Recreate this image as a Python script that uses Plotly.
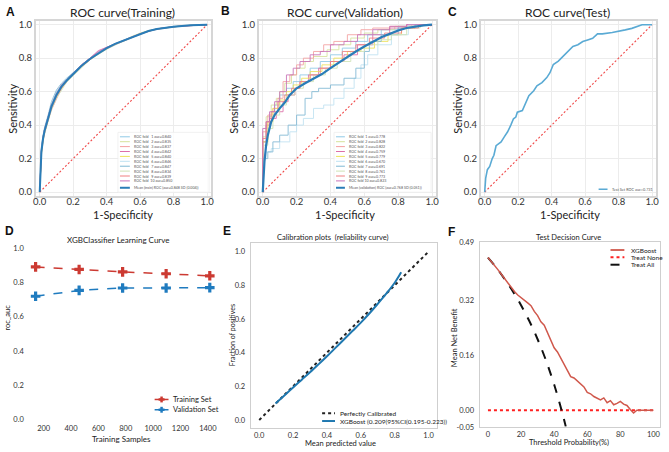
import plotly.graph_objects as go

W, H = 669, 452

# ------------------------------------------------------------------ data
# A: training ROC (10 folds + mean), common FPR grid
train_fpr = [0, 0.005, 0.01, 0.02, 0.03, 0.05, 0.07, 0.1, 0.13, 0.16, 0.2, 0.25, 0.3,
             0.35, 0.4, 0.45, 0.5, 0.55, 0.6, 0.65, 0.7, 0.8, 0.9, 1.0]
train_tpr_fold1 = [0, 0.17, 0.25, 0.33, 0.38, 0.45, 0.52, 0.60, 0.64, 0.67, 0.70, 0.75, 0.79, 0.83, 0.855, 0.88, 0.90, 0.925, 0.945, 0.96, 0.975, 0.99, 0.996, 1]
train_tpr_fold2 = [0, 0.16, 0.23, 0.31, 0.36, 0.43, 0.50, 0.57, 0.62, 0.66, 0.70, 0.75, 0.79, 0.825, 0.855, 0.88, 0.905, 0.93, 0.95, 0.965, 0.975, 0.988, 0.997, 1]
train_tpr_fold3 = [0, 0.19, 0.24, 0.32, 0.36, 0.43, 0.49, 0.56, 0.62, 0.66, 0.70, 0.76, 0.80, 0.835, 0.86, 0.885, 0.905, 0.925, 0.945, 0.96, 0.972, 0.987, 0.996, 1]
train_tpr_fold4 = [0, 0.18, 0.25, 0.33, 0.38, 0.44, 0.51, 0.58, 0.63, 0.67, 0.71, 0.76, 0.80, 0.845, 0.865, 0.885, 0.905, 0.925, 0.945, 0.962, 0.974, 0.988, 0.996, 1]
train_tpr_fold5 = [0, 0.17, 0.24, 0.31, 0.37, 0.44, 0.50, 0.57, 0.62, 0.66, 0.70, 0.75, 0.79, 0.83, 0.86, 0.885, 0.905, 0.925, 0.947, 0.963, 0.975, 0.989, 0.996, 1]
train_tpr_fold6 = [0, 0.19, 0.26, 0.33, 0.38, 0.45, 0.52, 0.59, 0.64, 0.675, 0.71, 0.76, 0.80, 0.835, 0.862, 0.887, 0.907, 0.927, 0.946, 0.962, 0.975, 0.988, 0.996, 1]
train_tpr_fold7 = [0, 0.20, 0.27, 0.34, 0.39, 0.46, 0.54, 0.61, 0.65, 0.68, 0.715, 0.76, 0.80, 0.835, 0.86, 0.885, 0.905, 0.927, 0.946, 0.962, 0.975, 0.988, 0.996, 1]
train_tpr_fold8 = [0, 0.16, 0.22, 0.30, 0.35, 0.42, 0.49, 0.56, 0.61, 0.655, 0.695, 0.745, 0.79, 0.825, 0.855, 0.88, 0.90, 0.922, 0.944, 0.96, 0.973, 0.987, 0.996, 1]
train_tpr_fold9 = [0, 0.17, 0.23, 0.31, 0.36, 0.43, 0.50, 0.57, 0.62, 0.66, 0.70, 0.75, 0.79, 0.83, 0.857, 0.882, 0.902, 0.924, 0.944, 0.961, 0.974, 0.988, 0.996, 1]
train_tpr_fold10 = [0, 0.19, 0.25, 0.33, 0.38, 0.45, 0.52, 0.59, 0.64, 0.67, 0.71, 0.76, 0.80, 0.84, 0.865, 0.887, 0.907, 0.927, 0.946, 0.962, 0.975, 0.988, 0.996, 1]
train_tpr_mean = [0, 0.18, 0.24, 0.32, 0.37, 0.44, 0.51, 0.58, 0.63, 0.665, 0.705, 0.755, 0.795, 0.83, 0.86, 0.885, 0.905, 0.925, 0.945, 0.962, 0.974, 0.988, 0.996, 1.0]
train_auc = ["0.840", "0.835", "0.837", "0.842", "0.840", "0.846", "0.847", "0.834", "0.839", "0.850"]
train_mean_label = "Mean (train) ROC (auc=0.848 SD (0.004))"

# B: validation ROC (10 folds, step curves) + mean
val_fpr_fold1 = [0, 0, 0.02, 0.04, 0.07, 0.1, 0.14, 0.18, 0.22, 0.28, 0.34, 0.4, 0.47, 0.55, 0.62, 0.7, 0.8, 0.9, 1]
val_tpr_fold1 = [0, 0.15, 0.3, 0.38, 0.45, 0.52, 0.58, 0.62, 0.66, 0.7, 0.74, 0.78, 0.82, 0.86, 0.9, 0.94, 0.97, 0.99, 1]
val_fpr_fold2 = [0, 0, 0.02, 0.05, 0.08, 0.1, 0.13, 0.17, 0.2, 0.25, 0.3, 0.38, 0.45, 0.52, 0.6, 0.68, 0.78, 0.88, 1]
val_tpr_fold2 = [0, 0.2, 0.33, 0.45, 0.52, 0.56, 0.6, 0.65, 0.7, 0.74, 0.78, 0.81, 0.85, 0.88, 0.92, 0.95, 0.97, 0.99, 1]
val_fpr_fold3 = [0, 0, 0.03, 0.06, 0.09, 0.12, 0.16, 0.2, 0.24, 0.3, 0.36, 0.42, 0.5, 0.58, 0.65, 0.75, 0.85, 1]
val_tpr_fold3 = [0, 0.2, 0.36, 0.46, 0.5, 0.56, 0.66, 0.7, 0.76, 0.8, 0.84, 0.88, 0.9, 0.94, 0.97, 0.98, 0.99, 1]
val_fpr_fold4 = [0, 0, 0.02, 0.04, 0.08, 0.12, 0.15, 0.19, 0.22, 0.27, 0.33, 0.4, 0.48, 0.56, 0.65, 0.75, 0.85, 1]
val_tpr_fold4 = [0, 0.12, 0.3, 0.4, 0.44, 0.48, 0.54, 0.58, 0.62, 0.66, 0.7, 0.74, 0.78, 0.82, 0.88, 0.94, 0.98, 1]
val_fpr_fold5 = [0, 0, 0.03, 0.06, 0.1, 0.14, 0.18, 0.23, 0.28, 0.35, 0.42, 0.5, 0.58, 0.66, 0.74, 0.82, 0.9, 1]
val_tpr_fold5 = [0, 0.16, 0.3, 0.42, 0.5, 0.55, 0.6, 0.64, 0.68, 0.72, 0.76, 0.8, 0.84, 0.86, 0.9, 0.94, 0.98, 1]
val_fpr_fold6 = [0, 0, 0.02, 0.05, 0.1, 0.16, 0.2, 0.24, 0.3, 0.36, 0.42, 0.48, 0.54, 0.58, 0.62, 0.68, 0.76, 0.86, 1]
val_tpr_fold6 = [0, 0.1, 0.2, 0.24, 0.26, 0.3, 0.36, 0.4, 0.44, 0.5, 0.52, 0.56, 0.62, 0.68, 0.76, 0.82, 0.88, 0.94, 1]
val_fpr_fold7 = [0, 0, 0.03, 0.06, 0.1, 0.15, 0.2, 0.25, 0.29, 0.33, 0.4, 0.48, 0.55, 0.6, 0.63, 0.7, 0.8, 0.9, 1]
val_tpr_fold7 = [0, 0.12, 0.2, 0.24, 0.3, 0.34, 0.4, 0.46, 0.56, 0.6, 0.62, 0.64, 0.68, 0.74, 0.84, 0.9, 0.94, 0.98, 1]
val_fpr_fold8 = [0, 0, 0.03, 0.06, 0.1, 0.14, 0.19, 0.24, 0.3, 0.37, 0.44, 0.52, 0.6, 0.68, 0.76, 0.85, 0.93, 1]
val_tpr_fold8 = [0, 0.14, 0.28, 0.38, 0.46, 0.52, 0.58, 0.62, 0.66, 0.7, 0.74, 0.78, 0.84, 0.88, 0.91, 0.94, 0.98, 1]
val_fpr_fold9 = [0, 0, 0.02, 0.05, 0.09, 0.13, 0.17, 0.22, 0.28, 0.34, 0.4, 0.47, 0.55, 0.63, 0.72, 0.82, 0.92, 1]
val_tpr_fold9 = [0, 0.18, 0.32, 0.42, 0.48, 0.54, 0.58, 0.62, 0.66, 0.7, 0.74, 0.78, 0.84, 0.88, 0.92, 0.95, 0.98, 1]
val_fpr_fold10 = [0, 0, 0.02, 0.04, 0.07, 0.1, 0.14, 0.18, 0.22, 0.28, 0.34, 0.4, 0.48, 0.56, 0.65, 0.75, 0.85, 1]
val_tpr_fold10 = [0, 0.25, 0.38, 0.42, 0.48, 0.54, 0.6, 0.7, 0.74, 0.78, 0.82, 0.84, 0.88, 0.9, 0.94, 0.97, 0.99, 1]
val_fpr_mean = [0, 0.005, 0.01, 0.02, 0.03, 0.05, 0.07, 0.1, 0.13, 0.16, 0.2, 0.25, 0.3, 0.35,
                0.4, 0.45, 0.5, 0.55, 0.6, 0.65, 0.7, 0.75, 0.8, 0.85, 0.9, 0.95, 1]
val_tpr_mean = [0, 0.1, 0.18, 0.28, 0.34, 0.42, 0.46, 0.5, 0.535, 0.58, 0.62, 0.65, 0.675, 0.705,
                0.74, 0.775, 0.81, 0.84, 0.87, 0.9, 0.925, 0.945, 0.965, 0.98, 0.99, 0.996, 1]
val_auc = ["0.778", "0.828", "0.822", "0.759", "0.779", "0.670", "0.691", "0.761", "0.773", "0.823"]
val_mean_label = "Mean (validation) ROC (auc=0.768 SD (0.051))"

# C: test ROC
test_fpr = [0, 0.006, 0.016, 0.03, 0.045, 0.055, 0.068, 0.098, 0.117, 0.137, 0.156, 0.172, 0.186,
            0.195, 0.225, 0.244, 0.264, 0.293, 0.312, 0.342, 0.371, 0.39, 0.41, 0.44, 0.469, 0.498,
            0.527, 0.557, 0.586, 0.615, 0.645, 0.674, 0.703, 0.762, 0.80, 0.84, 0.879, 0.918, 0.94, 1.0]
test_tpr = [0, 0.084, 0.134, 0.153, 0.2, 0.22, 0.277, 0.30, 0.33, 0.36, 0.40, 0.438, 0.448,
            0.477, 0.487, 0.536, 0.576, 0.605, 0.635, 0.654, 0.684, 0.713, 0.762, 0.782, 0.811, 0.84,
            0.87, 0.88, 0.899, 0.909, 0.919, 0.945, 0.945, 0.953, 0.959, 0.969, 0.978, 0.992, 1.0, 1.0]
test_label = "Test Set ROC auc=0.731"

chance = [0, 1]

# D: learning curve
lc_samples = [141, 459, 777, 1095, 1414]
lc_train = [0.890, 0.875, 0.861, 0.850, 0.838]
lc_valid = [0.719, 0.753, 0.767, 0.767, 0.769]

# E: calibration
cal_pred = [0.096, 0.15, 0.2, 0.25, 0.3, 0.35, 0.4, 0.45, 0.5, 0.55, 0.6, 0.65, 0.7, 0.75, 0.8, 0.838]
cal_frac = [0.098, 0.147, 0.193, 0.238, 0.283, 0.33, 0.378, 0.428, 0.478, 0.528, 0.578, 0.632, 0.69, 0.75, 0.815, 0.877]
cal_label = "XGBoost (0.209(95%CI(0.195-0.223))"

# F: decision curve
dca_thresh = [0, 2, 4, 6, 8, 10, 12, 14, 16, 18, 20, 22, 24, 26, 28, 30, 32, 34, 36, 38, 40, 42, 44, 46, 48, 50,
              52, 54, 56, 58, 60, 62, 64, 66, 68, 70, 72, 74, 76, 78, 80, 82, 84, 86, 88, 90, 92, 94, 96, 98, 100]
dca_model = [0.445, 0.434, 0.422, 0.410, 0.397, 0.384, 0.371, 0.358, 0.346, 0.336, 0.329, 0.322, 0.313, 0.305,
             0.288, 0.276, 0.258, 0.248, 0.226, 0.203, 0.182, 0.170, 0.152, 0.138, 0.118, 0.098, 0.094, 0.086,
             0.078, 0.068, 0.052, 0.048, 0.040, 0.034, 0.030, 0.036, 0.022, 0.028, 0.016, 0.020, 0.026, 0.018,
             0.014, 0.002, -0.008, 0.0, 0.0, 0.0, 0.0, 0.0, 0.0]
dca_all_thresh = [0, 5, 10, 15, 20, 25, 30, 35, 40, 45, 47]
dca_all = [0.445, 0.416, 0.383, 0.347, 0.306, 0.260, 0.207, 0.146, 0.075, -0.009, -0.047]
dca_none_thresh = [0, 100]
dca_none = [0, 0]

# ------------------------------------------------------------------ styling
FONT = "Lato, 'Open Sans', sans-serif"
NARROW = "'Liberation Sans Narrow', Lato, sans-serif"
fold_colors = ["#8fc9e6", "#d6e29c", "#f4a0a0", "#dd6ea8", "#eee25a",
               "#bfe2f2", "#7fb8d4", "#cfe3b6", "#f08080", "#c872b8"]
mean_blue = "#2a7db8"
diag_red = "#f04848"


def px(x):
    return x / W


def py(y):
    return 1 - y / H


def xdom(a, b):
    return [a / W, b / W]


def ydom(top, bottom):
    return [1 - bottom / H, 1 - top / H]


fig = go.Figure()


def add(x, y, ax, **kw):
    fig.add_trace(go.Scatter(x=x, y=y, xaxis="x" + ax, yaxis="y" + ax,
                             showlegend=False, hoverinfo="skip", **kw))


# A
train_folds = [train_tpr_fold1, train_tpr_fold2, train_tpr_fold3, train_tpr_fold4, train_tpr_fold5,
               train_tpr_fold6, train_tpr_fold7, train_tpr_fold8, train_tpr_fold9, train_tpr_fold10]
for i, t in enumerate(train_folds):
    add(train_fpr, t, "", mode="lines", line=dict(color=fold_colors[i], width=1), opacity=0.8)
add(chance, chance, "", mode="lines", line=dict(color=diag_red, width=1.1, dash="2px,2px"))
add(train_fpr, train_tpr_mean, "", mode="lines", line=dict(color=mean_blue, width=2))

# B
val_folds = [(val_fpr_fold1, val_tpr_fold1), (val_fpr_fold2, val_tpr_fold2), (val_fpr_fold3, val_tpr_fold3),
             (val_fpr_fold4, val_tpr_fold4), (val_fpr_fold5, val_tpr_fold5), (val_fpr_fold6, val_tpr_fold6),
             (val_fpr_fold7, val_tpr_fold7), (val_fpr_fold8, val_tpr_fold8), (val_fpr_fold9, val_tpr_fold9),
             (val_fpr_fold10, val_tpr_fold10)]
for i, (f, t) in enumerate(val_folds):
    add(f, t, "2", mode="lines", line=dict(color=fold_colors[i], width=1, shape="vh"), opacity=0.85)
add(chance, chance, "2", mode="lines", line=dict(color=diag_red, width=1.1, dash="2px,2px"))
add(val_fpr_mean, val_tpr_mean, "2", mode="lines", line=dict(color=mean_blue, width=2.2))

# C
add(chance, chance, "3", mode="lines", line=dict(color=diag_red, width=1.1, dash="2px,2px"))
add(test_fpr, test_tpr, "3", mode="lines", line=dict(color="#5aaad4", width=1.6))

# D
add(lc_samples, lc_train, "4", mode="lines+markers", line=dict(color="#cc3a32", width=1.5, dash="dash"),
    marker=dict(symbol="cross", size=8, color="#cc3a32"))
add(lc_samples, lc_valid, "4", mode="lines+markers", line=dict(color="#1f7bbf", width=1.5, dash="dash"),
    marker=dict(symbol="cross", size=8, color="#1f7bbf"))

# E
add(chance, chance, "5", mode="lines", line=dict(color="#222222", width=2, dash="dot"))
add(cal_pred, cal_frac, "5", mode="lines", line=dict(color="#1f78b0", width=2), line_shape="spline")

# F
add(dca_none_thresh, dca_none, "6", mode="lines", line=dict(color="#ff2020", width=2, dash="dot"))
add(dca_all_thresh, dca_all, "6", mode="lines", line=dict(color="#111111", width=2, dash="dash"), line_shape="spline")
add(dca_thresh, dca_model, "6", mode="lines", line=dict(color="#d0584c", width=1.5))

# ------------------------------------------------------------------ axes
roc_ticks = [0, 0.2, 0.4, 0.6, 0.8, 1.0]
roc_text = ["0.0", "0.2", "0.4", "0.6", "0.8", "1.0"]


def roc_axis(dom, anchor, standoff=0):
    return dict(domain=dom, anchor=anchor, range=[-0.024, 1.024], tickvals=roc_ticks, ticktext=roc_text,
                showgrid=True, gridcolor="#ececec", gridwidth=1, zeroline=False, showline=True, mirror=True,
                linecolor="#d6d6d6", linewidth=1.5, ticks="", ticklabelstandoff=standoff,
                tickfont=dict(size=9.5, color="#333", family=FONT))


layout = dict(
    width=W, height=H, margin=dict(l=0, r=0, t=0, b=0),
    paper_bgcolor="white", plot_bgcolor="white",
    font=dict(family=FONT, color="#222"),
    showlegend=False,
    xaxis=roc_axis(xdom(33, 210), "y", -4), yaxis=roc_axis(ydom(17, 196), "x"),
    xaxis2=roc_axis(xdom(258, 437), "y2", -4), yaxis2=roc_axis(ydom(17, 196), "x2"),
    xaxis3=roc_axis(xdom(482, 659), "y3", -4), yaxis3=roc_axis(ydom(17, 196), "x3"),
    xaxis4=dict(domain=xdom(22, 215), anchor="y4", range=[62, 1460], tickvals=[200, 400, 600, 800, 1000, 1200, 1400],
                showgrid=False, zeroline=False, showline=False, ticks="",
                tickfont=dict(size=7.5, color="#333", family=NARROW)),
    yaxis4=dict(domain=ydom(246, 427), anchor="x4", range=[-0.017, 1.017], tickvals=roc_ticks, ticktext=roc_text,
                showgrid=False, zeroline=False, showline=False, ticks="",
                tickfont=dict(size=7.5, color="#333", family=NARROW)),
    xaxis5=dict(domain=xdom(250, 438), anchor="y5", range=[-0.05, 1.05], tickvals=roc_ticks, ticktext=roc_text,
                showgrid=False, zeroline=False, showline=True, mirror=True, linecolor="#cfcfcf", linewidth=1.2,
                ticks="", tickfont=dict(size=7.5, color="#333", family=FONT)),
    yaxis5=dict(domain=ydom(244, 433), anchor="x5", range=[-0.05, 1.05], tickvals=roc_ticks, ticktext=roc_text,
                showgrid=False, zeroline=False, showline=True, mirror=True, linecolor="#cfcfcf", linewidth=1.2,
                ticks="", ticklabelstandoff=3, tickfont=dict(size=7.5, color="#333", family=FONT)),
    xaxis6=dict(domain=xdom(481, 663), anchor="y6", range=[-5, 104], tickvals=[0, 20, 40, 60, 80, 100],
                showgrid=False, zeroline=False, showline=True, mirror=True, linecolor="#cfcfcf", linewidth=1.2,
                ticks="", tickfont=dict(size=7.5, color="#333", family=FONT)),
    yaxis6=dict(domain=ydom(243, 432), anchor="x6", range=[-0.05, 0.49], tickvals=[-0.05, 0, 0.16, 0.32, 0.49],
                ticktext=["-0.05", "0.00", "0.16", "0.32", "0.49"],
                showgrid=False, zeroline=False, showline=True, mirror=True, linecolor="#cfcfcf", linewidth=1.2,
                ticks="", ticklabelstandoff=3, tickfont=dict(size=7.5, color="#333", family=FONT)),
)
fig.update_layout(**layout)

# ------------------------------------------------------------------ text
ann = []
shapes = []


def text(t, x, y, size, xanchor="center", family=FONT, angle=0, color="#222", bold=False):
    if bold:
        t = "<b>" + t + "</b>"
    ann.append(dict(text=t, x=px(x), y=py(y), xref="paper", yref="paper", showarrow=False,
                    xanchor=xanchor, yanchor="middle", textangle=angle,
                    font=dict(size=size, family=family, color=color)))


def seg(x0, x1, y, color, width=1, dash="solid", opacity=1):
    shapes.append(dict(type="line", xref="paper", yref="paper", x0=px(x0), x1=px(x1), y0=py(y), y1=py(y),
                       line=dict(color=color, width=width, dash=dash), opacity=opacity))


LET = "'Liberation Sans', Arial, sans-serif"
for L, x, y in [("A", 8, 8), ("B", 225, 7), ("C", 454, 8), ("D", 7, 232), ("E", 226, 232), ("F", 453, 233)]:
    text(L, x, y, 12, family=LET, bold=True, color="#111")

# titles
text("ROC curve(Training)", 121, 9, 12)
text("ROC curve(Validation)", 345, 9, 12)
text("ROC curve(Test)", 570, 9, 12)
text("1-Specificity", 121, 214.5, 11)
text("1-Specificity", 345, 214.5, 11)
text("1-Specificity", 572, 214.5, 11)
text("Sensitivity", 10, 107, 11, angle=-90)
text("Sensitivity", 233, 107, 11, angle=-90)
text("Sensitivity", 459, 107, 11, angle=-90)

text("XGBClassifier Learning Curve", 117, 241, 8, family=NARROW)
text("roc_auc", 5, 320, 7.5, family=NARROW, angle=-90)
text("Training Samples", 120, 444, 8, family=NARROW)

text("Calibration plots  (reliability curve)", 332, 238, 7.5)
text("Fraction of positives", 231, 338, 7, angle=-90)
text("Mean predicted value", 341, 448, 7.5)

text("Test Decision Curve", 571, 238, 7.5)
text("Mean Net Benefit", 455, 340, 7.5, angle=-90)
text("Threshold Probability(%)", 571, 447, 7.5)

# legend A
shapes.append(dict(type="rect", xref="paper", yref="paper", x0=px(116), x1=px(208), y0=py(131), y1=py(192),
                   fillcolor="rgba(255,255,255,0.85)", line=dict(color="#eeeeee", width=0.8), layer="above"))
for i in range(10):
    yy = 135.5 + i * 5.0
    seg(118, 128, yy, fold_colors[i], 1)
    text("ROC fold %3d auc=%s" % (i + 1, train_auc[i]), 130, yy, 3.6, xanchor="left", color="#555")
seg(118, 128, 187.5, mean_blue, 2)
text(train_mean_label, 130, 187.5, 3.6, xanchor="left", color="#555")

# legend B
shapes.append(dict(type="rect", xref="paper", yref="paper", x0=px(334), x1=px(432), y0=py(131), y1=py(192),
                   fillcolor="rgba(255,255,255,0.85)", line=dict(color="#eeeeee", width=0.8), layer="above"))
for i in range(10):
    yy = 135.5 + i * 5.0
    seg(336, 345, yy, fold_colors[i], 1)
    text("ROC fold %2d auc=%s" % (i + 1, val_auc[i]), 347, yy, 3.6, xanchor="left", color="#555")
seg(336, 345, 187.5, mean_blue, 2)
text(val_mean_label, 347, 187.5, 3.6, xanchor="left", color="#555")

# legend C
seg(601, 610, 189, "#5aaad4", 1.5)
text(test_label, 612, 189, 3.8, xanchor="left", color="#555")

# legend D
for yy, c, lab in [(403.5, "#cc3a32", "Training Set"), (414, "#1f7bbf", "Validation Set")]:
    seg(153, 167, yy, c, 1.5)
    seg(157, 163, yy, c, 2.5)
    shapes.append(dict(type="line", xref="paper", yref="paper", x0=px(160), x1=px(160), y0=py(yy - 3),
                       y1=py(yy + 3), line=dict(color=c, width=2.5)))
    text(lab, 170, yy, 7.5, xanchor="left", family=NARROW)

# legend E
seg(322, 335, 417.5, "#222222", 2, "dot")
text("Perfectly Calibrated", 338, 417.5, 6.5, xanchor="left")
seg(322, 335, 425.5, "#1f78b0", 2)
text(cal_label, 338, 425.5, 6.5, xanchor="left")

# legend F
seg(613, 627, 251, "#d0584c", 1.8)
text("XGBoost", 632, 251, 6.5, xanchor="left")
seg(613, 627, 258.5, "#ff2020", 2, "dot")
text("Treat None", 632, 258.5, 6.5, xanchor="left")
seg(613, 627, 266, "#111111", 2, "dash")
text("Treat All", 632, 266, 6.5, xanchor="left")

fig.update_layout(annotations=ann, shapes=shapes)
fig.write_html("out.html", config={"displayModeBar": False},
               post_script="document.body.style.margin='0';document.body.style.overflow='hidden';")
